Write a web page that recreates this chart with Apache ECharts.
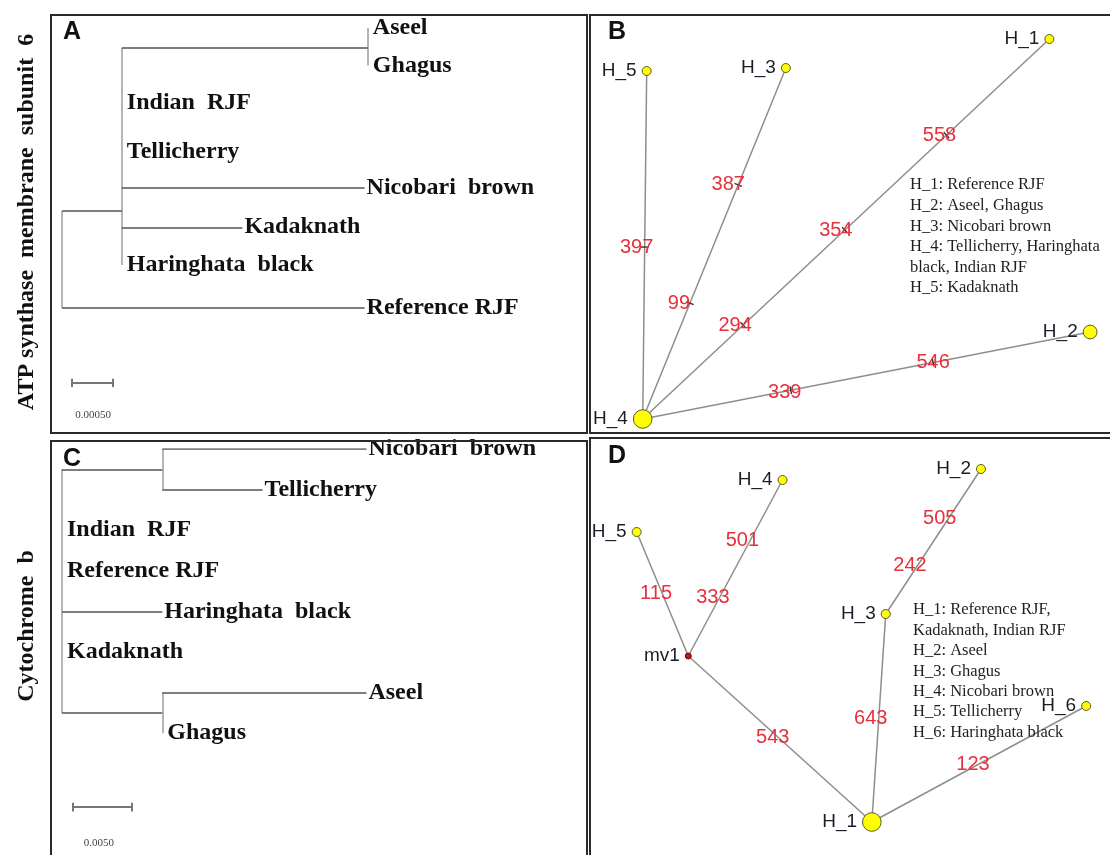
<!DOCTYPE html>
<html>
<head>
<meta charset="utf-8">
<title>Phylogeny and haplotype networks</title>
<script src="https://cdn.jsdelivr.net/npm/echarts@6/dist/echarts.min.js"></script>
<style>
  html, body { margin: 0; padding: 0; background: #fff; }
  #main { width: 1110px; height: 855px; }
</style>
</head>
<body>
<div id="main"></div>
<script>
// ---------- Panel A: ATP synthase membrane subunit 6 tree ----------
const atpNames  = ['root', 'n1', 'AG', 'Aseel', 'Ghagus', 'Indian  RJF', 'Tellicherry',
                   'Nicobari  brown', 'Kadaknath', 'Haringhata  black', 'Reference RJF'];
const atpParent = [-1, 0, 1, 2, 2, 1, 1, 1, 1, 1, 0];
const atpDepth  = [0, 0.00073, 0.00373, 0.00373, 0.00373, 0.00073, 0.00073, 0.00369, 0.0022, 0.00073, 0.00369];
const atpRow    = [null, 4.87, 0.53, 0, 1, 2, 3.3, 4.25, 5.3, 6.3, 7.45];
const atpScale  = 0.0005;
const atpScaleText = '0.00050';

// ---------- Panel C: cytochrome b tree ----------
const cytNames  = ['root', 'top', 'Nicobari  brown', 'Tellicherry', 'Indian  RJF', 'Reference RJF',
                   'Haringhata  black', 'Kadaknath', 'bottom', 'Aseel', 'Ghagus'];
const cytParent = [-1, 0, 1, 1, 0, 0, 0, 0, 0, 8, 8];
const cytDepth  = [0, 0.0085, 0.0258, 0.0170, 0, 0, 0.0085, 0, 0.0085, 0.0258, 0.0085];
const cytRow    = [null, 0.5, 0, 1, 2, 3, 4, 5, 6.5, 6, 7];
const cytScale  = 0.005;
const cytScaleText = '0.0050';

// ---------- Panel B: ATP6 haplotype network ----------
const hapB      = ['H_1', 'H_2', 'H_3', 'H_4', 'H_5'];
const hapBCount = [1, 2, 1, 3, 1];
const hapBX     = [40.9, 45.0, 14.4, 0, 0.4];
const hapBY     = [38.0, 8.7, 35.1, 0, 34.8];
const linkB     = [['H_4', 'H_5'], ['H_4', 'H_3'], ['H_4', 'H_1'], ['H_4', 'H_2']];
const mutBSite  = [397, 99, 387, 294, 354, 558, 339, 546];
const mutBLink  = [0, 1, 1, 2, 2, 2, 3, 3];
const mutBPos   = [0.494, 0.33, 0.667, 0.247, 0.497, 0.747, 0.331, 0.649];
const legendB   = ['H_1: Reference RJF', 'H_2: Aseel, Ghagus', 'H_3: Nicobari brown',
                   'H_4: Tellicherry, Haringhata', 'black, Indian RJF', 'H_5: Kadaknath'];

// ---------- Panel D: cytochrome b haplotype network ----------
const hapD      = ['H_1', 'H_2', 'H_3', 'H_4', 'H_5', 'H_6', 'mv1'];
const hapDCount = [3, 1, 1, 1, 1, 1, 0];
const hapDX     = [0, 11.0, 1.4, -9.0, -23.7, 21.6, -18.5];
const hapDY     = [0, 35.3, 20.8, 34.2, 29.0, 11.6, 16.6];
const linkD     = [['H_1', 'mv1'], ['mv1', 'H_5'], ['mv1', 'H_4'], ['H_1', 'H_3'], ['H_3', 'H_2'], ['H_1', 'H_6']];
const mutDSite  = [543, 115, 333, 501, 643, 242, 505, 123];
const mutDLink  = [0, 1, 2, 2, 3, 4, 4, 5];
const mutDPos   = [0.54, 0.508, 0.335, 0.659, 0.5, 0.338, 0.662, 0.472];
const legendD   = ['H_1: Reference RJF,', 'Kadaknath, Indian RJF', 'H_2: Aseel', 'H_3: Ghagus',
                   'H_4: Nicobari brown', 'H_5: Tellicherry', 'H_6: Haringhata black'];

// label nudges for the site numbers (pixels), kept apart from the data
const mutBShift = [[-8, 0], [-11, 0], [-10, 0], [-8, 0], [-9, 0], [-7, 0], [-6, 2], [0, 0]];
const mutDShift = [[0, 5], [-6, 0], [-7, 0], [-8, 0], [-8, 0], [-8, 0], [-9, 0], [0, -3]];

const SERIF = "'Liberation Serif', 'Times New Roman', serif";
const SANS = "'Liberation Sans', Arial, sans-serif";
const RED = '#e6303c';

// split a tree into horizontal branches, vertical connectors and leaves
function treeParts(names, parent, depth, row) {
  const kids = names.map(() => []);
  parent.forEach((p, i) => { if (p >= 0) kids[p].push(i); });
  const hSeg = [], vSeg = [], leaves = [];
  names.forEach((n, i) => {
    const p = parent[i];
    if (p >= 0 && depth[i] > depth[p]) {
      hSeg.push({ coords: [[depth[p], row[i]], [depth[i], row[i]]] });
    }
    if (kids[i].length) {
      const rs = kids[i].map(k => row[k]);
      vSeg.push({ coords: [[depth[i], Math.min(...rs)], [depth[i], Math.max(...rs)]] });
    } else {
      const zero = p >= 0 && depth[i] === depth[p];
      leaves.push({ value: [depth[i], row[i], n], label: { distance: zero ? 5 : 2 } });
    }
  });
  return { hSeg, vSeg, leaves };
}

function scaleBar(len, x0, r) {
  const tick = 0.11;
  return [
    { coords: [[x0, r], [x0 + len, r]] },
    { coords: [[x0, r - tick], [x0, r + tick]] },
    { coords: [[x0 + len, r - tick], [x0 + len, r + tick]] }
  ];
}

const SOLID = { opacity: 1 };

function treeSeries(parts, idx, bar, barLabel) {
  return [
    { type: 'lines', coordinateSystem: 'cartesian2d', xAxisIndex: idx, yAxisIndex: idx,
      silent: true, z: 2, data: parts.vSeg,
      lineStyle: { color: '#a3a3a3', width: 1.6, opacity: 1, curveness: 0 } },
    { type: 'lines', coordinateSystem: 'cartesian2d', xAxisIndex: idx, yAxisIndex: idx,
      silent: true, z: 3, data: parts.hSeg,
      lineStyle: { color: '#555', width: 1.6, opacity: 1, curveness: 0 } },
    { type: 'lines', coordinateSystem: 'cartesian2d', xAxisIndex: idx, yAxisIndex: idx,
      silent: true, z: 3, data: bar,
      lineStyle: { color: '#777', width: 2, opacity: 1, curveness: 0 } },
    { type: 'scatter', xAxisIndex: idx, yAxisIndex: idx, silent: true, symbolSize: 0, z: 4,
      itemStyle: SOLID, data: parts.leaves,
      label: { show: true, position: 'right', formatter: p => p.data.value[2],
               fontFamily: SERIF, fontWeight: 'bold', fontSize: 24, color: '#111' } },
    { type: 'scatter', xAxisIndex: idx, yAxisIndex: idx, silent: true, symbolSize: 0, z: 4,
      itemStyle: SOLID, data: [barLabel],
      label: { show: true, position: 'inside', formatter: p => p.data.value[2],
               fontFamily: SERIF, fontSize: 11, color: '#444' } }
  ];
}

function nodeSize(n) { return n === 0 ? 6 : 9 + (n - 1) * 4.8; }

function networkSeries(names, counts, xs, ys, links, sites, linkIdx, pos, shift, idx, withTicks) {
  const at = {};
  names.forEach((n, i) => { at[n] = [xs[i], ys[i]]; });
  const nodes = names.map((n, i) => ({
    name: n, value: [xs[i], ys[i]], symbolSize: nodeSize(counts[i]),
    itemStyle: counts[i] === 0
      ? { color: '#c0141c', borderColor: '#6a0a0a', borderWidth: 1 }
      : { color: '#ffff00', borderColor: '#5b5b2a', borderWidth: 1 }
  }));
  const marks = sites.map((s, k) => {
    const [a, b] = links[linkIdx[k]];
    const pa = at[a], pb = at[b], t = pos[k];
    const angle = Math.atan2(pb[1] - pa[1], pb[0] - pa[0]) * 180 / Math.PI;
    return { x: pa[0] + t * (pb[0] - pa[0]), y: pa[1] + t * (pb[1] - pa[1]), s, angle, off: shift[k] };
  });
  const out = [
    { type: 'graph', coordinateSystem: 'cartesian2d', xAxisIndex: idx, yAxisIndex: idx,
      layout: 'none', silent: true, z: 3, data: nodes,
      links: links.map(([s, t]) => ({ source: s, target: t })),
      lineStyle: { color: '#8e8e8e', width: 1.5, opacity: 1, curveness: 0 },
      label: { show: true, position: 'left', distance: 5, formatter: '{b}',
               fontFamily: SANS, fontSize: 19, color: '#1d1d28' } },
    { type: 'scatter', xAxisIndex: idx, yAxisIndex: idx, silent: true, symbolSize: 0, z: 6,
      itemStyle: SOLID,
      data: marks.map(m => ({ value: [m.x, m.y, m.s], label: { offset: m.off } })),
      label: { show: true, position: 'inside', formatter: p => String(p.data.value[2]),
               fontFamily: SANS, fontSize: 20, color: RED } }
  ];
  if (withTicks) {
    out.push({ type: 'scatter', xAxisIndex: idx, yAxisIndex: idx, silent: true, z: 5,
      symbol: 'rect',
      data: marks.map(m => ({ value: [m.x, m.y], symbolRotate: m.angle, symbolSize: [1.4, 8] })),
      itemStyle: { color: '#333', opacity: 1 } });
  }
  return out;
}

const treeA = treeParts(atpNames, atpParent, atpDepth, atpRow);
const treeC = treeParts(cytNames, cytParent, cytDepth, cytRow);

const series = [].concat(
  treeSeries(treeA, 0, scaleBar(atpScale, 0.00012, 9.44), { value: [0.00012 + atpScale * 0.5 + 0.00001, 10.3, atpScaleText] }),
  treeSeries(treeC, 1, scaleBar(cytScale, 0.00093, 8.82), { value: [0.00093 + cytScale * 0.5 - 0.0003, 9.7, cytScaleText] }),
  networkSeries(hapB, hapBCount, hapBX, hapBY, linkB, mutBSite, mutBLink, mutBPos, mutBShift, 2, true),
  networkSeries(hapD, hapDCount, hapDX, hapDY, linkD, mutDSite, mutDLink, mutDPos, mutDShift, 3, false)
);

function axes(ranges) {
  return ranges.map((r, i) => ({
    type: 'value', gridIndex: i, min: r[0], max: r[1], inverse: !!r[2], show: false,
    splitLine: { show: false }
  }));
}

function textLines(lines, x, y0, step) {
  return lines.map((t, i) => ({
    type: 'text', x: x, y: y0 + i * step, silent: true, z: 4,
    style: { text: t, font: `16.5px ${SERIF}`, fill: '#1e1e1e', textVerticalAlign: 'middle' }
  }));
}

function box(x, y, w, h) {
  return { type: 'rect', shape: { x, y, width: w, height: h }, silent: true, z: 10,
           style: { fill: 'none', stroke: '#2a2a2a', lineWidth: 2 } };
}

function letter(t, x, y) {
  return { type: 'text', x, y, silent: true, z: 10,
           style: { text: t, font: `bold 25px ${SANS}`, fill: '#111',
                    textAlign: 'center', textVerticalAlign: 'middle' } };
}

function sideTitle(t, x, y) {
  return { type: 'text', x, y, rotation: Math.PI / 2, silent: true, z: 10,
           style: { text: t, font: `bold 24px ${SERIF}`, fill: '#111',
                    textAlign: 'center', textVerticalAlign: 'middle' } };
}

const option = {
  animation: false,
  backgroundColor: '#fff',
  grid: [
    { left: 62, top: 28, width: 410, height: 413.6 },
    { left: 62, top: 449, width: 413, height: 408 },
    { left: 593, top: 15, width: 520, height: 414 },
    { left: 594, top: 442, width: 520, height: 410 }
  ],
  xAxis: axes([[0, 0.005], [0, 0.035], [-5, 47], [-28, 24]]),
  yAxis: axes([[0, 11, true], [0, 10, true], [-1, 40.4], [-3, 38]]),
  series: series,
  graphic: [].concat(
    [box(51, 15, 536, 418), box(590, 15, 530, 418), box(51, 441, 536, 420), box(590, 438, 530, 422)],
    [letter('A', 72, 32), letter('B', 617, 32), letter('C', 72, 459), letter('D', 617, 456)],
    [sideTitle('ATP synthase  membrane  subunit  6', 27, 222), sideTitle('Cytochrome  b', 27, 626)],
    textLines(legendB, 910, 185, 20.6),
    textLines(legendD, 913, 610, 20.4)
  )
};

const chart = echarts.init(document.getElementById('main'));
chart.setOption(option);
</script>
</body>
</html>
